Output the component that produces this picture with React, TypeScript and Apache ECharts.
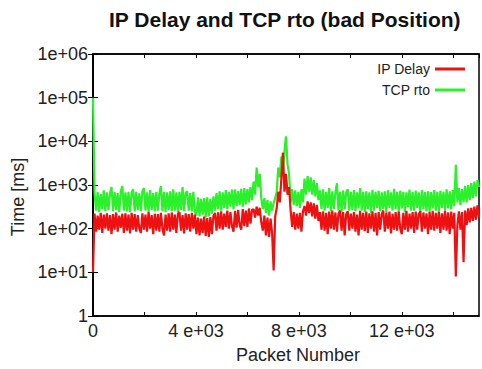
import React, { useEffect, useRef } from "react";
import * as echarts from "echarts";

const titleText = "IP Delay and TCP rto (bad Position)";
const xName = "Packet Number";
const yName = "Time [ms]";
const seriesNames = ["IP Delay", "TCP rto"];
const packetStep = 60; // packets between samples

// IP Delay [ms], one value per 60 packets
const ipDelay = [
  10,
  220, 85, 200, 95, 230, 80, 210, 100, 225, 90,
  205, 75, 215, 95, 235, 85, 200, 105, 220, 80,
  225, 90, 210, 78, 230, 95, 215, 85, 205, 100,
  80, 225, 95, 210, 85, 240, 100, 205, 75, 220,
  90, 215, 85, 230, 100, 70, 210, 90, 225, 85,
  235, 95, 210, 80, 220, 240, 90, 205, 78, 225,
  95, 215, 85, 230, 100, 210,
  75, 180, 70, 170, 80, 190, 68, 175, 65, 185, 75, 195,
  230, 90, 235, 100, 250, 95, 220, 110, 260, 100, 240, 115, 85, 255, 105, 270, 120, 95, 280, 115, 260, 110, 290, 130, 270,
  280, 180, 320, 200, 300,
  140,
  90, 200, 70, 180, 65, 170, 80, 11, 190,
  300, 700, 400, 1400, 5500, 700, 1800, 600, 900,
  260, 110, 240, 95, 220, 100, 230, 85, 250,
  330, 200, 420, 230, 400, 190, 380, 170, 350, 150,
  240, 95, 250, 90, 230, 75, 245, 100, 260, 95,
  235, 85, 220, 260, 90, 240, 70, 215, 250, 90,
  220, 100, 240, 85, 210, 70, 255, 95, 230, 88,
  245, 80, 225, 100, 250, 85, 230, 70, 240, 95,
  215, 260, 85, 235, 100, 245, 78, 220, 95, 240,
  90, 250, 100, 75, 230, 95, 255, 85, 220, 100,
  240, 80, 245, 95, 215, 250, 85, 235, 100, 225,
  75, 240, 95, 255, 90, 230, 100, 245, 80, 225,
  95, 260, 90, 235, 75, 245, 100, 230,
  8,
  120, 250, 95, 240,
  17,
  260, 120, 290, 140, 300, 150, 320, 160, 340, 180,
];

// TCP rto [ms], one value per 60 packets
const tcpRto = [
  100000,
  650, 260, 700, 240, 620, 280, 750, 250, 680, 270,
  640, 900, 250, 700, 270, 650, 240, 720, 950, 260,
  680, 250, 700, 240, 660, 800, 250, 700, 270, 640,
  250, 720, 850, 260, 680, 240, 760, 270, 650, 250,
  700, 260, 640, 950, 250, 700, 240, 680, 270, 720,
  250, 800, 260, 680, 240, 700, 270, 900, 250, 660,
  720, 260, 650, 250, 700, 240,
  200, 520, 190, 480, 210, 500, 180, 520, 190, 480, 220, 550,
  260, 650, 280, 720, 260, 680, 300, 760, 280, 700, 320, 780, 280, 800, 330, 720, 350, 820, 320, 850, 360, 800, 400, 900, 450,
  1200, 600, 2500, 900, 1800,
  500,
  280, 500, 230, 450, 200, 420, 260, 380, 500,
  700, 2500, 1500, 4500, 2000, 6000, 13000, 3000, 1800,
  400, 800, 350, 750, 330, 700, 300, 800, 400,
  1400, 600, 1600, 700, 1500, 600, 1300, 550, 1100, 450,
  750, 280, 800, 260, 700, 300, 850, 250, 720, 280,
  680, 1100, 260, 700, 240, 750, 280, 680, 800, 260,
  700, 270, 760, 250, 680, 290, 850, 260, 700, 240,
  720, 280, 680, 230, 780, 260, 700, 300, 740, 250,
  680, 280, 720, 240, 760, 300, 680, 260, 820, 280,
  700, 250, 740, 290, 700, 240, 680, 310, 780, 260,
  690, 260, 740, 300, 680, 240, 760, 280, 700, 250,
  720, 240, 690, 290, 760, 260, 700, 250, 740, 300,
  700, 270, 800, 290, 720, 280, 760, 330,
  2900,
  400, 850, 350, 800,
  400,
  950, 400, 1000, 450, 1100, 500, 1200, 550, 1300, 900,
];

const xMin = 0;
const xMax = 15000;
const xInterval = 2000;
const yMin = 1;
const yMax = 1e6;

const FONT = "'Liberation Sans', Arial, Helvetica, sans-serif";

function fmtY(v: number): string {
  if (v <= 1) return "1";
  const e = Math.round(Math.log10(v));
  return "1e+" + (e < 10 ? "0" + e : String(e));
}
function fmtX(v: number): string {
  if (v === 0) return "0";
  if (v % 4000 !== 0) return "";
  return v / 1000 + " e+03";
}

export default function App() {
  const ref = useRef<HTMLDivElement>(null);
  useEffect(() => {
    if (!ref.current) return;
    const chart = echarts.init(ref.current, undefined, { renderer: "svg" });
    const toPairs = (arr: number[]) => arr.map((v, i) => [i * packetStep, v]);
    const axisLine = { show: true, lineStyle: { color: "#000", width: 1.5 } };
    chart.setOption({
      animation: false,
      backgroundColor: "#fff",
      title: {
        text: titleText,
        left: 109,
        top: 9,
        padding: 0,
        textStyle: { fontFamily: FONT, fontSize: 21, fontWeight: "bold", color: "#111" },
      },
      legend: {
        data: seriesNames,
        orient: "vertical",
        right: 12,
        top: 57,
        align: "right",
        icon: "rect",
        itemWidth: 30,
        itemHeight: 3,
        itemGap: 7,
        textStyle: { fontFamily: FONT, fontSize: 14, color: "#222" },
      },
      grid: {
        left: 93,
        top: 54,
        right: 3,
        bottom: 53,
        show: true,
        borderColor: "#000",
        borderWidth: 1.5,
        backgroundColor: "#fff",
      },
      xAxis: [
        {
          type: "value",
          min: xMin,
          max: xMax,
          interval: xInterval,
          position: "bottom",
          name: xName,
          nameLocation: "middle",
          nameGap: 30,
          nameTextStyle: { fontFamily: FONT, fontSize: 18, color: "#222", padding: [0, 0, 0, 24] },
          axisLine,
          axisTick: { show: true, inside: true, length: 4, lineStyle: { color: "#000" } },
          axisLabel: { formatter: fmtX, margin: 6, fontFamily: FONT, fontSize: 18, color: "#222", showMaxLabel: false },
          splitLine: { show: false },
        },
        {
          type: "value",
          min: xMin,
          max: xMax,
          interval: xInterval,
          position: "top",
          axisLine,
          axisTick: { show: true, inside: true, length: 4, lineStyle: { color: "#000" } },
          axisLabel: { show: false },
          splitLine: { show: false },
        },
      ],
      yAxis: [
        {
          type: "log",
          logBase: 10,
          min: yMin,
          max: yMax,
          position: "left",
          name: yName,
          nameLocation: "middle",
          nameGap: 63,
          nameTextStyle: { fontFamily: FONT, fontSize: 18, color: "#222", padding: [0, 24, 0, 0] },
          axisLine,
          axisTick: { show: true, inside: true, length: 5, lineStyle: { color: "#000" } },
          axisLabel: { formatter: fmtY, margin: 5, fontFamily: FONT, fontSize: 18, color: "#222" },
          splitLine: { show: false },
        },
        {
          type: "log",
          logBase: 10,
          min: yMin,
          max: yMax,
          position: "right",
          axisLine,
          axisTick: { show: true, inside: true, length: 5, lineStyle: { color: "#000" } },
          axisLabel: { show: false },
          splitLine: { show: false },
        },
      ],
      series: [
        {
          name: seriesNames[1],
          type: "line",
          data: toPairs(tcpRto),
          xAxisIndex: 0,
          yAxisIndex: 0,
          symbol: "none",
          lineStyle: { color: "#2bf02b", width: 2.2 },
          itemStyle: { color: "#2bf02b" },
          z: 2,
        },
        {
          name: seriesNames[0],
          type: "line",
          data: toPairs(ipDelay),
          xAxisIndex: 0,
          yAxisIndex: 0,
          symbol: "none",
          lineStyle: { color: "#ee1111", width: 2.2 },
          itemStyle: { color: "#ee1111" },
          z: 3,
        },
      ],
    });
    return () => chart.dispose();
  }, []);
  return (
    <div
      ref={ref}
      style={{ position: "absolute", left: 0, top: 0, width: 482, height: 369 }}
    />
  );
}
